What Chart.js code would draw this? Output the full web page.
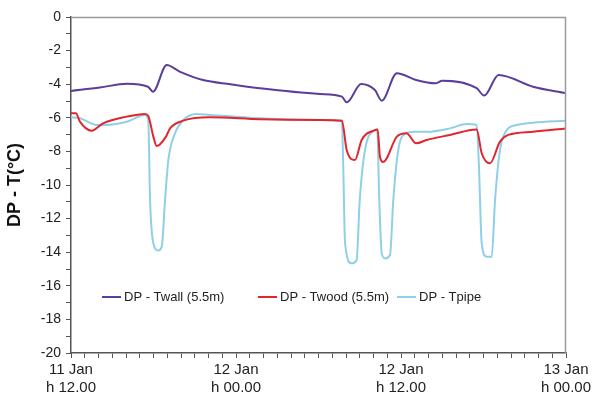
<!DOCTYPE html>
<html>
<head>
<meta charset="utf-8">
<script src="https://cdn.jsdelivr.net/npm/chart.js@4.4.1/dist/chart.umd.min.js"></script>
<style>
  html, body { margin: 0; padding: 0; background: #fff; }
</style>
</head>
<body>
<canvas id="dp-chart" width="596" height="399"></canvas>
<script>
// x = hours after 11 Jan h 12.00
const TWALL_H = [0, 2.1, 4.05, 5.6, 5.96, 6.96, 7.9, 9.6, 11.6, 13.75, 18.1, 19.7, 20.05, 21.1, 22.1, 22.6, 23.7, 25.1, 26.5, 27.0, 29.5, 30.05, 31.1, 33.6, 36];
const TWALL = [-4.4, -4.2, -3.97, -4.15, -4.45, -2.86, -3.25, -3.75, -4.0, -4.24, -4.58, -4.74, -5.08, -3.99, -4.35, -4.98, -3.35, -3.75, -3.95, -3.79, -4.24, -4.68, -3.45, -4.15, -4.54];

const TWOOD_H = [0, 0.36, 0.65, 1.5, 2.33, 4.05, 5.38, 5.62, 5.99, 6.23, 6.91, 7.2, 8.17, 10.1, 13.75, 18.1, 19.7, 20.05, 20.65, 21.14, 22.1, 22.3, 22.47, 22.7, 23.7, 24.4, 25.1, 25.87, 27.56, 29.5, 29.87, 30.47, 31.2, 31.8, 33.6, 36];
const TWOOD = [-5.73, -5.73, -6.23, -6.77, -6.33, -5.93, -5.77, -5.89, -7.12, -7.68, -7.12, -6.63, -6.17, -5.97, -6.09, -6.13, -6.17, -7.92, -8.51, -7.32, -6.73, -6.7, -8.32, -8.63, -7.12, -6.92, -7.52, -7.32, -7.02, -6.69, -8.11, -8.71, -7.42, -7.02, -6.83, -6.63];

const TPIPE_H = [0, 0.65, 1.87, 2.33, 4.05, 5.38, 5.62, 5.75, 5.99, 6.35, 6.6, 6.84, 7.08, 7.56, 8.17, 9.14, 10.1, 13.75, 18.1, 19.7, 19.8, 19.93, 20.4, 20.77, 21.0, 21.38, 22.1, 22.27, 22.42, 22.6, 22.84, 23.2, 23.44, 23.8, 24.36, 25.0, 25.87, 27.56, 28.78, 29.5, 29.67, 29.87, 30.23, 30.6, 30.84, 31.2, 31.69, 32.4, 33.6, 36];
const TPIPE = [-5.97, -6.03, -6.43, -6.43, -6.23, -5.83, -6.13, -10.9, -13.47, -13.9, -13.67, -10.9, -8.5, -6.93, -6.13, -5.77, -5.83, -6.03, -6.13, -6.17, -8.91, -13.45, -14.66, -14.46, -10.9, -7.92, -6.73, -6.69, -10.9, -14.07, -14.37, -14.17, -10.9, -7.92, -6.93, -6.83, -6.83, -6.63, -6.37, -6.43, -8.91, -13.47, -14.27, -14.27, -10.9, -7.92, -6.73, -6.43, -6.29, -6.17];

const SERIES_NAMES = ['DP - Twall (5.5m)', 'DP - Twood (5.5m)', 'DP - Tpipe'];
const X_TICK_HOURS = [0, 12, 24, 36];
const X_TICK_LABELS = [['11 Jan', 'h 12.00'], ['12 Jan', 'h 00.00'], ['12 Jan', 'h 12.00'], ['13 Jan', 'h 00.00']];
const Y_MIN = -20, Y_MAX = 0;

const FONT = "'Liberation Sans', Arial, sans-serif";
const COLORS = ['#5b3e9b', '#e1262e', '#8fd0e8'];

function toPoints(hs, vs) {
  return hs.map((h, i) => ({ x: h, y: vs[i] }));
}

// top / right frame lines of the plot box
const frame = {
  id: 'frame',
  afterDraw(chart) {
    const { ctx, chartArea: a } = chart;
    ctx.save();
    ctx.strokeStyle = '#9a9a9a';
    ctx.lineWidth = 1.5;
    ctx.beginPath();
    ctx.moveTo(a.left, a.top + 0.5);
    ctx.lineTo(a.right - 0.5, a.top + 0.5);
    ctx.lineTo(a.right - 0.5, a.bottom);
    ctx.stroke();
    ctx.restore();
  }
};

// legend sitting inside the plot near the bottom
const innerLegend = {
  id: 'innerLegend',
  afterDraw(chart) {
    const { ctx, chartArea: a } = chart;
    const offsets = [31, 187, 326];
    const y = a.top + 280;
    ctx.save();
    ctx.font = '13px ' + FONT;
    ctx.textBaseline = 'middle';
    ctx.fillStyle = '#222';
    chart.data.datasets.forEach((ds, i) => {
      const x = a.left + offsets[i];
      ctx.strokeStyle = ds.borderColor;
      ctx.lineWidth = 2;
      ctx.beginPath();
      ctx.moveTo(x, y);
      ctx.lineTo(x + 19, y);
      ctx.stroke();
      ctx.fillText(ds.label, x + 22, y);
    });
    ctx.restore();
  }
};

const seriesH = [TWALL_H, TWOOD_H, TPIPE_H];
const seriesV = [TWALL, TWOOD, TPIPE];

new Chart(document.getElementById('dp-chart'), {
  type: 'line',
  data: {
    datasets: SERIES_NAMES.map((name, i) => ({
      label: name,
      data: toPoints(seriesH[i], seriesV[i]),
      borderColor: COLORS[i],
      borderWidth: 2,
      pointRadius: 0,
      cubicInterpolationMode: 'monotone',
      fill: false
    }))
  },
  options: {
    responsive: false,
    devicePixelRatio: 1,
    animation: false,
    layout: { padding: { top: 17, right: 30, left: 0, bottom: 0 } },
    plugins: { legend: { display: false }, tooltip: { enabled: false } },
    scales: {
      x: {
        type: 'linear',
        min: 0,
        max: 36,
        afterFit: s => { s.height = 46; },
        ticks: {
          stepSize: 1,
          autoSkip: false,
          maxRotation: 0,
          padding: 3,
          color: '#222',
          font: { family: FONT, size: 15 },
          callback: v => {
            const i = X_TICK_HOURS.indexOf(v);
            return i >= 0 ? X_TICK_LABELS[i] : '';
          }
        },
        grid: { drawOnChartArea: false, tickLength: 5, color: '#555' },
        border: { color: '#555', width: 1.5 }
      },
      y: {
        min: Y_MIN,
        max: Y_MAX,
        afterFit: s => { s.width = 71; },
        ticks: {
          stepSize: 1,
          autoSkip: false,
          padding: 5,
          color: '#222',
          font: { family: FONT, size: 14 },
          callback: v => (v % 2 === 0 ? String(v) : '')
        },
        grid: { drawOnChartArea: false, tickLength: 5, color: '#555' },
        border: { color: '#555', width: 1.5 },
        title: {
          display: true,
          text: 'DP - T(°C)',
          color: '#111',
          font: { family: FONT, size: 18, weight: 'bold' },
          padding: { top: 4, bottom: 0 }
        }
      }
    }
  },
  plugins: [frame, innerLegend]
});
</script>
</body>
</html>
